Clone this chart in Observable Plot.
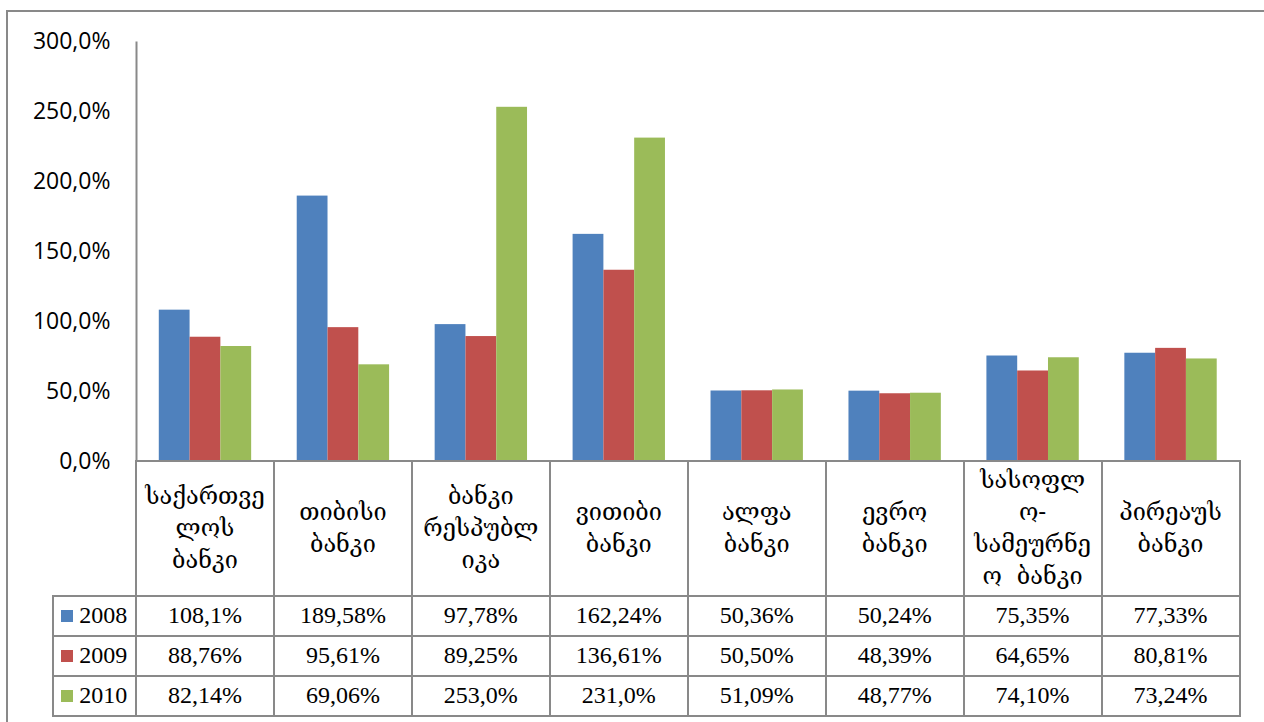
<!DOCTYPE html>
<html>
<head>
<meta charset="utf-8">
<script src="https://cdn.jsdelivr.net/npm/d3@7"></script>
<script src="https://cdn.jsdelivr.net/npm/@observablehq/plot@0.6"></script>
<style>
  html, body { margin: 0; padding: 0; background: #fff; overflow: hidden; }
  #wrap { position: relative; width: 1264px; height: 722px; overflow: hidden; background: #fff; }
  #border { position: absolute; left: 6px; top: 10px; width: 1400px; height: 800px; border: 2px solid #898989; box-sizing: border-box; }
  #chart { position: absolute; left: 0; top: 0; }
  .cell { position: absolute; box-sizing: border-box; border-color: #898989; border-style: solid; border-width: 2px 0 0 2px;
          display: flex; align-items: center; justify-content: center; text-align: center; color: #000; background: transparent; }
  .hdr { font-family: "DejaVu Serif", "DejaVu Sans", serif; font-size: 23.5px; line-height: 32px; }
  .num { font-family: "Liberation Serif", "Times New Roman", serif; font-size: 24px; }
  .sw { display: inline-block; width: 12px; height: 12px; margin-right: 6px; }
</style>
</head>
<body>
<div id="wrap">
  <div id="border"></div>
  <div id="chart"></div>
  <div id="table"></div>
</div>
<script>
// ---- data ----
const banks = ["საქართველოს ბანკი", "თიბისი ბანკი", "ბანკი რესპუბლიკა", "ვითიბი ბანკი", "ალფა ბანკი", "ევრო ბანკი", "სასოფლო-სამეურნეო ბანკი", "პირეაუს ბანკი"];
const bankLines = [["საქართვე", "ლოს", "ბანკი"], ["თიბისი", "ბანკი"], ["ბანკი", "რესპუბლ", "იკა"], ["ვითიბი", "ბანკი"], ["ალფა", "ბანკი"], ["ევრო", "ბანკი"], ["სასოფლ", "ო-", "სამეურნე", "ო\u00a0 ბანკი"], ["პირეაუს", "ბანკი"]];
const years = ["2008", "2009", "2010"];
const colors = ["#4F81BD", "#C0504D", "#9BBB59"];
const values2008 = [108.1, 189.58, 97.78, 162.24, 50.36, 50.24, 75.35, 77.33];
const values2009 = [88.76, 95.61, 89.25, 136.61, 50.50, 48.39, 64.65, 80.81];
const values2010 = [82.14, 69.06, 253.0, 231.0, 51.09, 48.77, 74.10, 73.24];
const labels2008 = ["108,1%", "189,58%", "97,78%", "162,24%", "50,36%", "50,24%", "75,35%", "77,33%"];
const labels2009 = ["88,76%", "95,61%", "89,25%", "136,61%", "50,50%", "48,39%", "64,65%", "80,81%"];
const labels2010 = ["82,14%", "69,06%", "253,0%", "231,0%", "51,09%", "48,77%", "74,10%", "73,24%"];
const yTicks = [0, 50, 100, 150, 200, 250, 300];

const series = [values2008, values2009, values2010];
const seriesLabels = [labels2008, labels2009, labels2010];
const rows = years.flatMap((yr, j) => banks.map((b, i) => ({bank: b, year: yr, value: series[j][i]})));

// ---- layout ----
const W = 1264, H = 722;
const mL = 136, mR = 24.5, mT = 41, mB = 261;
const step = (W - mL - mR) / banks.length;
const inner = d3.scaleBand().domain(years).range([0, step]).paddingInner(0).paddingOuter(0.74);

const marks = [
  Plot.axisY({ticks: yTicks, tickSize: 0, tickPadding: 26, tickFormat: d => d.toFixed(1).replace(".", ",") + "%",
               label: null, fill: "#000", fontSize: 23}),
  Plot.frame({stroke: "#898989", strokeWidth: 2,
              strokeDasharray: `0 ${2 * (W - mL - mR) + (H - mT - mB)} ${H - mT - mB}`})
];
years.forEach((yr, j) => {
  marks.push(Plot.barY(rows.filter(d => d.year === yr), {
    x: "bank", y: "value", fill: "year",
    insetLeft: inner(yr), insetRight: step - inner(yr) - inner.bandwidth()
  }));
});

const chart = Plot.plot({
  width: W, height: H,
  marginLeft: mL, marginRight: mR, marginTop: mT, marginBottom: mB,
  x: {type: "band", domain: banks, padding: 0, round: false, axis: null},
  y: {domain: [0, 300]},
  color: {domain: years, range: colors},
  style: {fontFamily: "'Open Sans', sans-serif", fontSize: "23px", background: "transparent", color: "#000", overflow: "visible"},
  marks
});
document.getElementById("chart").appendChild(chart);

// ---- data table under the chart, aligned to Plot's scales ----
const xs = chart.scale("x");
const ys = chart.scale("y");
const bw = xs.bandwidth;
const colX = banks.map(b => xs.apply(b));
const legendLeft = 52.5;
const rowY = [ys.apply(0), 595.5, 635.5, 675.5, 716];
const tbl = document.getElementById("table");
function cell(x0, x1, y0, y1, lastCol, lastRow, html, cls) {
  const d = document.createElement("div");
  d.className = "cell " + cls;
  d.style.left = (x0 - 1) + "px";
  d.style.top = (y0 - 1) + "px";
  d.style.width = (x1 - x0 + (lastCol ? 2 : 0)) + "px";
  d.style.height = (y1 - y0 + (lastRow ? 2 : 0)) + "px";
  if (lastCol) d.style.borderRightWidth = "2px";
  if (lastRow) d.style.borderBottomWidth = "2px";
  d.innerHTML = html;
  tbl.appendChild(d);
}
banks.forEach((b, i) => {
  cell(colX[i], colX[i] + bw, rowY[0], rowY[1], i === banks.length - 1, false, bankLines[i].join("<br>"), "hdr");
});
years.forEach((yr, j) => {
  const y0 = rowY[j + 1], y1 = rowY[j + 2], last = j === years.length - 1;
  cell(legendLeft, colX[0], y0, y1, false, last, `<span class="sw" style="background:${colors[j]}"></span>${yr}`, "num");
  banks.forEach((b, i) => {
    cell(colX[i], colX[i] + bw, y0, y1, i === banks.length - 1, last, seriesLabels[j][i], "num");
  });
});
</script>
</body>
</html>
